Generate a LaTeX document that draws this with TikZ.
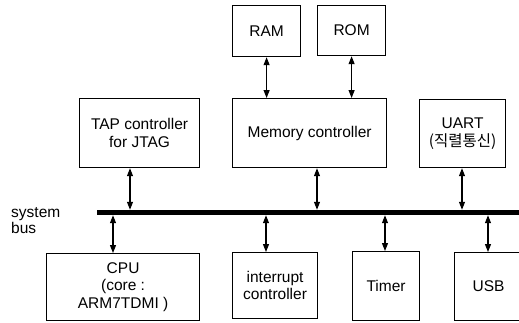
\documentclass[tikz,border=0pt]{standalone}
\usepackage{fontspec}
\setmainfont{Liberation Sans}
\newfontfamily\krfont{Noto Sans CJK KR}
\usetikzlibrary{arrows.meta}
\newcommand{\blkfont}{\fontsize{15.5}{17.5}\selectfont}
\tikzset{
  blk/.style={draw, line width=1.2pt, inner sep=0pt, align=center,
              anchor=north west, font=\blkfont},
  link/.style={line width=1.1pt,
               {Triangle[length=8pt,width=6pt]}-{Triangle[length=8pt,width=6pt]}},
  lbl/.style={inner sep=0pt, anchor=base west, font=\blkfont}
}
\begin{document}
\begin{tikzpicture}[x=1pt,y=-1pt]
\useasboundingbox (0,0) rectangle (519,322);
\clip (0,0) rectangle (519,322);

% memories
\node[blk, minimum width=68pt, minimum height=51pt] (ram) at (232,5) {RAM};
\node[blk, minimum width=68pt, minimum height=50pt] (rom) at (317,5) {ROM};

% upper row
\node[blk, minimum width=120pt, minimum height=69pt] (tap) at (79,98) {TAP controller\\for JTAG};
\node[blk, minimum width=154pt, minimum height=69pt] (mem) at (232,98) {Memory controller};
\node[blk, minimum width=86pt, minimum height=68pt] (uart) at (419,99) {UART\\{\krfont (직렬통신)}};

% system bus
\node[fill=black, inner sep=0pt, minimum width=430pt, minimum height=5pt, anchor=west] (bus) at (97,212.5) {};
\node[lbl] (lsys) at (11,217) {system};
\node[lbl] (lbus) at (11,233) {bus};

% lower row
\node[blk, minimum width=153pt, minimum height=67pt] (cpu) at (46,253) {CPU\\(core :\\ARM7TDMI )};
\node[blk, minimum width=85pt, minimum height=66pt] (intc) at (232,252) {interrupt\\controller};
\node[blk, minimum width=67pt, minimum height=69pt] (timer) at (352,251) {Timer};
\node[blk, minimum width=68pt, minimum height=68pt] (usb) at (454,252) {USB};

% tap points on the bus
\coordinate (xtap) at (130,0);
\coordinate (xmem) at (317,0);
\coordinate (xuart) at (462,0);
\coordinate (xcpu) at (113,0);
\coordinate (xint) at (266,0);
\coordinate (xtim) at (385,0);
\coordinate (xusb) at (488,0);

% connections
\draw[link] (ram.south) -- (ram.south |- mem.north);
\draw[link] (rom.south) -- (rom.south |- mem.north);
\draw[link] (tap.south -| xtap) -- (bus.north -| xtap);
\draw[link] (mem.south -| xmem) -- (bus.north -| xmem);
\draw[link] (uart.south -| xuart) -- (bus.north -| xuart);
\draw[link] (bus.south -| xcpu) -- (cpu.north -| xcpu);
\draw[link] (bus.south -| xint) -- (intc.north -| xint);
\draw[link] (bus.south -| xtim) -- (timer.north -| xtim);
\draw[link] (bus.south -| xusb) -- (usb.north -| xusb);
\end{tikzpicture}
\end{document}
